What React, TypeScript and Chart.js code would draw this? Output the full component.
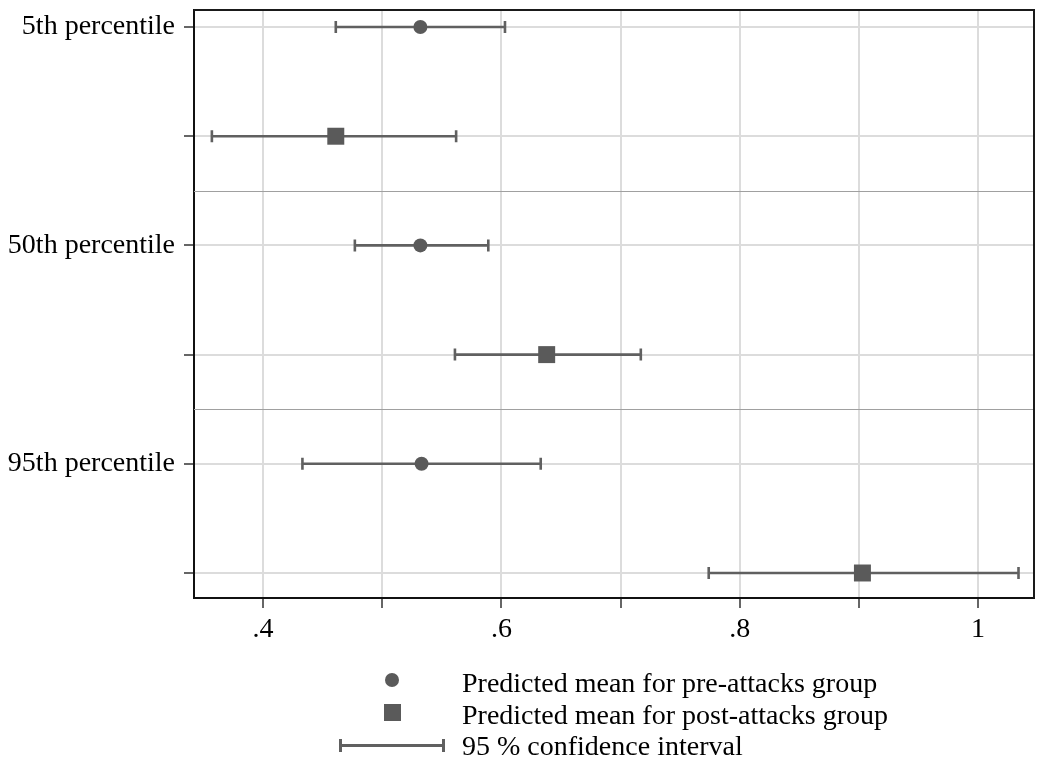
import React, { useEffect, useRef } from 'react';
import { Chart, registerables } from 'chart.js';

Chart.register(...registerables);

const percentiles = ['5th percentile', '50th percentile', '95th percentile'];
const preMean = [0.532, 0.532, 0.533];
const preLow = [0.461, 0.477, 0.433];
const preHigh = [0.603, 0.589, 0.633];
const postMean = [0.461, 0.638, 0.903];
const postLow = [0.357, 0.561, 0.774];
const postHigh = [0.562, 0.717, 1.034];
const xTicks = [0.4, 0.5, 0.6, 0.7, 0.8, 0.9, 1.0];
const xTickLabels = ['.4', '', '.6', '', '.8', '', '1'];
const legendLabels = [
  'Predicted mean for pre-attacks group',
  'Predicted mean for post-attacks group',
  '95 % confidence interval',
];

const FONT = "'Liberation Serif', 'Times New Roman', serif";
const MARK = '#5a5a5a';
const BAR = '#606060';

const errorBarPlugin = {
  id: 'errorBars',
  beforeDatasetsDraw(chart: any) {
    const { ctx, chartArea, scales } = chart;
    const xs = scales.x;
    const ys = scales.y;
    ctx.save();
    ctx.strokeStyle = '#a0a0a0';
    ctx.lineWidth = 1.2;
    for (let k = 1; k < percentiles.length; k++) {
      const y = Math.round(ys.getPixelForValue(2 * k - 0.5)) + 0.5;
      ctx.beginPath();
      ctx.moveTo(chartArea.left, y);
      ctx.lineTo(chartArea.right, y);
      ctx.stroke();
    }
    ctx.strokeStyle = BAR;
    ctx.lineWidth = 2.6;
    chart.data.datasets.forEach((ds: any) => {
      ds.data.forEach((pt: any, i: number) => {
        const y = ys.getPixelForValue(pt.y);
        const x1 = xs.getPixelForValue(ds.lows[i]);
        const x2 = xs.getPixelForValue(ds.highs[i]);
        ctx.beginPath();
        ctx.moveTo(x1, y);
        ctx.lineTo(x2, y);
        ctx.moveTo(x1, y - 6);
        ctx.lineTo(x1, y + 6);
        ctx.moveTo(x2, y - 6);
        ctx.lineTo(x2, y + 6);
        ctx.stroke();
      });
    });
    ctx.restore();
  },
  afterDraw(chart: any) {
    const { ctx, chartArea } = chart;
    ctx.save();
    ctx.strokeStyle = '#1a1a1a';
    ctx.lineWidth = 2;
    ctx.beginPath();
    ctx.moveTo(chartArea.left, chartArea.top);
    ctx.lineTo(chartArea.right, chartArea.top);
    ctx.lineTo(chartArea.right, chartArea.bottom);
    ctx.stroke();
    ctx.restore();
  },
};

export default function App() {
  const ref = useRef<HTMLCanvasElement | null>(null);

  useEffect(() => {
    if (!ref.current) return;
    const chart = new Chart(ref.current, {
      type: 'scatter',
      data: {
        datasets: [
          {
            label: legendLabels[0],
            data: preMean.map((v, i) => ({ x: v, y: 2 * i })),
            lows: preLow,
            highs: preHigh,
            pointStyle: 'circle',
            pointRadius: 7,
            pointBorderWidth: 0,
            backgroundColor: MARK,
            borderColor: MARK,
          } as any,
          {
            label: legendLabels[1],
            data: postMean.map((v, i) => ({ x: v, y: 2 * i + 1 })),
            lows: postLow,
            highs: postHigh,
            pointStyle: 'rect',
            pointRadius: 12,
            pointBorderWidth: 0,
            backgroundColor: MARK,
            borderColor: MARK,
          } as any,
        ],
      },
      options: {
        animation: false,
        responsive: false,
        maintainAspectRatio: false,
        layout: { autoPadding: false, padding: { left: 0, top: 10, right: 5, bottom: 114 } },
        plugins: { legend: { display: false }, tooltip: { enabled: false } },
        scales: {
          x: {
            type: 'linear',
            min: 0.342,
            max: 1.047,
            afterBuildTicks: (s: any) => {
              s.ticks = xTicks.map((v) => ({ value: v }));
            },
            afterFit: (s: any) => {
              s.height = 50;
              s.paddingLeft = 0;
              s.paddingRight = 0;
            },
            ticks: {
              autoSkip: false,
              maxRotation: 0,
              padding: 5,
              color: '#000',
              font: { family: FONT, size: 28 },
              callback: (v: any) => {
                const idx = xTicks.findIndex((t) => Math.abs(t - Number(v)) < 1e-6);
                return idx >= 0 ? xTickLabels[idx] : '';
              },
            },
            grid: {
              color: '#dcdcdc',
              lineWidth: 2,
              tickColor: '#333',
              tickLength: 10,
              tickWidth: 1.5,
            },
            border: { display: true, color: '#111', width: 2 },
          },
          y: {
            type: 'linear',
            reverse: true,
            min: -0.156,
            max: 5.229,
            afterBuildTicks: (s: any) => {
              const t: any[] = [];
              percentiles.forEach((_, i) => {
                t.push({ value: 2 * i });
                t.push({ value: 2 * i + 1 });
              });
              s.ticks = t;
            },
            afterFit: (s: any) => {
              s.width = 194;
              s.paddingTop = 0;
              s.paddingBottom = 0;
              s.paddingLeft = 0;
              s.paddingRight = 0;
            },
            ticks: {
              autoSkip: false,
              padding: 9,
              color: '#000',
              font: { family: FONT, size: 28 },
              callback: (v: any) => {
                const n = Math.round(Number(v));
                return n % 2 === 0 ? percentiles[n / 2] : '';
              },
            },
            grid: {
              color: '#dcdcdc',
              lineWidth: 2,
              tickColor: '#333',
              tickLength: 10,
              tickWidth: 1.5,
            },
            border: { display: true, color: '#111', width: 2 },
          },
        },
      } as any,
      plugins: [errorBarPlugin],
    });
    return () => chart.destroy();
  }, []);

  const textStyle: React.CSSProperties = {
    position: 'absolute',
    left: 462,
    fontFamily: FONT,
    fontSize: 28,
    lineHeight: '32px',
    color: '#000',
    whiteSpace: 'nowrap',
  };

  return (
    <div style={{ position: 'absolute', left: 0, top: 0, width: 1039, height: 762, background: '#fff' }}>
      <canvas ref={ref} width={1039} height={762} style={{ display: 'block', width: 1039, height: 762 }} />
      <div style={{ position: 'absolute', left: 385, top: 673, width: 14, height: 14, borderRadius: 7, background: MARK }} />
      <div style={{ position: 'absolute', left: 384, top: 704, width: 17, height: 17, background: MARK }} />
      <div style={{ position: 'absolute', left: 340, top: 744, width: 104, height: 3, background: BAR }} />
      <div style={{ position: 'absolute', left: 339, top: 739, width: 3, height: 13, background: BAR }} />
      <div style={{ position: 'absolute', left: 442, top: 739, width: 3, height: 13, background: BAR }} />
      <div style={{ ...textStyle, top: 667 }}>{legendLabels[0]}</div>
      <div style={{ ...textStyle, top: 699 }}>{legendLabels[1]}</div>
      <div style={{ ...textStyle, top: 730 }}>{legendLabels[2]}</div>
    </div>
  );
}
